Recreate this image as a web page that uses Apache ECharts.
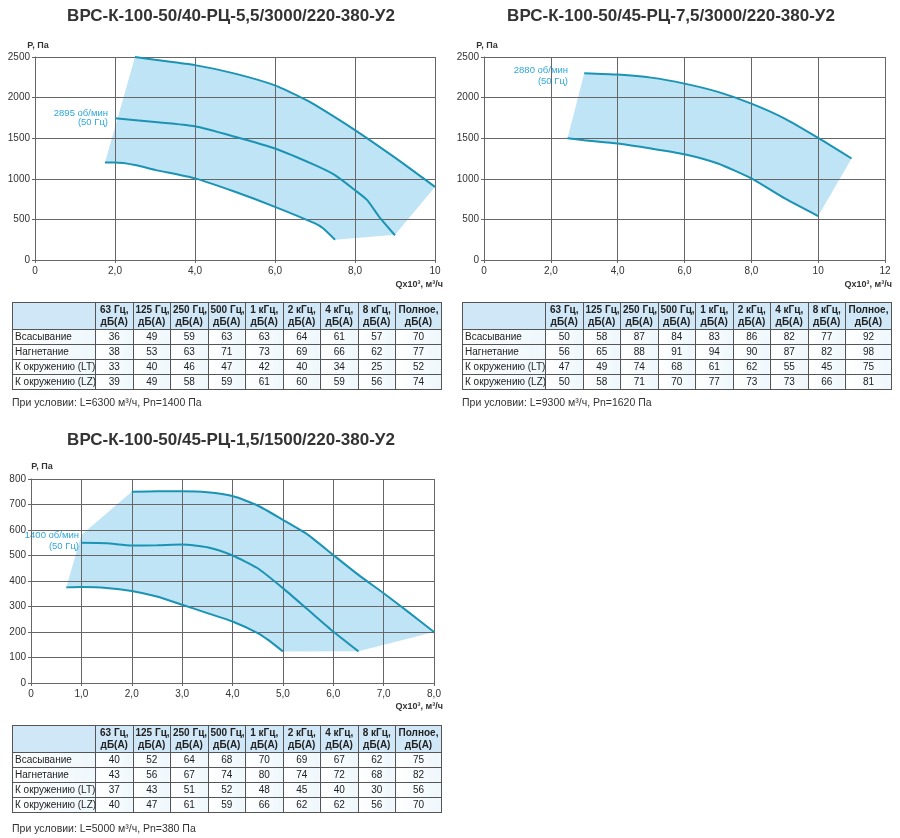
<!DOCTYPE html>
<html>
<head>
<meta charset="utf-8">
<script src="https://cdn.jsdelivr.net/npm/echarts@6/dist/echarts.min.js"></script>
<style>
  body { margin: 0; background: #fff; font-family: "Liberation Sans", Arial, sans-serif; }
  #chart { position: absolute; left: 0; top: 0; width: 900px; height: 838px; }
  table.noise { position: absolute; border-collapse: collapse; table-layout: fixed; font-size: 10px; color: #222; width: 429px; }
  table.noise td, table.noise th { border: 1px solid #555; padding: 0 2px; height: 14px; line-height: 12px; text-align: center; white-space: nowrap; }
  table.noise th { background: #cfe7f6; font-weight: bold; height: 26px; }
  table.noise td.name { text-align: left; }
  table.noise tr.row td { background: linear-gradient(to right, #ffffff, #eef7fc); }
  .note { position: absolute; font-size: 10.5px; color: #333; }
</style>
</head>
<body>
<div id="chart"></div>
<script>
// chart 1: ВРС-К-100-50/40-РЦ-5,5/3000
const title1 = 'ВРС-К-100-50/40-РЦ-5,5/3000/220-380-У2';
const top1 = [[2.5, 2500], [3.0, 2465], [4.0, 2400], [5.0, 2295], [6.0, 2150], [6.7, 1990], [7.0, 1910], [8.0, 1600], [9.0, 1260], [10.0, 900]];
const mid1 = [[2.0, 1745], [3.0, 1700], [4.0, 1648], [5.0, 1518], [6.0, 1373], [7.0, 1168], [7.5, 1045], [8.0, 860], [8.3, 740], [8.6, 535], [9.0, 305]];
const low1 = [[1.75, 1200], [2.0, 1200], [2.5, 1170], [3.0, 1110], [4.0, 1005], [5.0, 840], [6.0, 655], [7.0, 450], [7.2, 390], [7.5, 250]];
const edge1 = [[9.0, 310]];
const speed1 = ['2895 об/мин', '(50 Гц)'];

// chart 2: ВРС-К-100-50/45-РЦ-7,5/3000
const title2 = 'ВРС-К-100-50/45-РЦ-7,5/3000/220-380-У2';
const top2 = [[3.0, 2300], [4.0, 2283], [5.0, 2246], [6.0, 2172], [7.0, 2070], [8.0, 1926], [9.0, 1742], [10.0, 1504], [11.0, 1250]];
const low2 = [[2.5, 1500], [3.0, 1475], [4.0, 1434], [5.0, 1373], [6.0, 1303], [7.0, 1188], [8.0, 1004], [9.0, 758], [10.0, 541]];
const speed2 = ['2880 об/мин', '(50 Гц)'];

// chart 3: ВРС-К-100-50/45-РЦ-1,5/1500
const title3 = 'ВРС-К-100-50/45-РЦ-1,5/1500/220-380-У2';
const top3 = [[2.0, 750], [2.5, 752], [3.0, 752], [3.5, 748], [4.0, 733], [4.5, 696], [5.0, 640], [5.5, 581], [6.0, 502], [6.5, 424], [7.0, 352], [7.5, 277], [8.0, 200]];
const mid3 = [[1.0, 550], [1.5, 548], [2.0, 539], [2.5, 540], [3.0, 543], [3.5, 532], [4.0, 500], [4.5, 450], [5.0, 372], [5.5, 287], [6.0, 202], [6.5, 124]];
const low3 = [[0.7, 375], [1.0, 376], [1.5, 373], [2.0, 361], [2.5, 339], [3.0, 307], [3.5, 274], [4.0, 241], [4.5, 196], [4.7, 170], [5.0, 124]];
const edgeLeft3 = [[1.0, 580]];
const edgeRight3 = [[6.5, 125]];
const speed3 = ['1400 об/мин', '(50 Гц)'];

// noise tables
const bands = ['63 Гц,', '125 Гц,', '250 Гц,', '500 Гц,', '1 кГц,', '2 кГц,', '4 кГц,', '8 кГц,', 'Полное,'];
const rowNames = ['Всасывание', 'Нагнетание', 'К окружению (LT)', 'К окружению (LZ)'];
const noise1 = [[36, 49, 59, 63, 63, 64, 61, 57, 70], [38, 53, 63, 71, 73, 69, 66, 62, 77], [33, 40, 46, 47, 42, 40, 34, 25, 52], [39, 49, 58, 59, 61, 60, 59, 56, 74]];
const noise2 = [[50, 58, 87, 84, 83, 86, 82, 77, 92], [56, 65, 88, 91, 94, 90, 87, 82, 98], [47, 49, 74, 68, 61, 62, 55, 45, 75], [50, 58, 71, 70, 77, 73, 73, 66, 81]];
const noise3 = [[40, 52, 64, 68, 70, 69, 67, 62, 75], [43, 56, 67, 74, 80, 74, 72, 68, 82], [37, 43, 51, 52, 48, 45, 40, 30, 56], [40, 47, 61, 59, 66, 62, 62, 56, 70]];
const note1 = 'При условии: L=6300 м³/ч, Pn=1400 Па';
const note2 = 'При условии: L=9300 м³/ч, Pn=1620 Па';
const note3 = 'При условии: L=5000 м³/ч, Pn=380 Па';

const LINE = '#1b93b3';
const FILL = '#bfe4f6';
const GRIDLINE = '#666';
const FONT = '"Liberation Sans", Arial, sans-serif';

function fmtX(v) {
  if (v === 0) return '0';
  if (v >= 10) return String(v);
  return v.toFixed(1).replace('.', ',');
}

function xAxis(idx, max, step) {
  return {
    type: 'value', gridIndex: idx, min: 0, max: max, interval: step,
    axisLine: { show: true, lineStyle: { color: GRIDLINE } },
    axisTick: { show: true, length: 3, lineStyle: { color: GRIDLINE } },
    splitLine: { show: true, lineStyle: { color: GRIDLINE, width: 1 } },
    axisLabel: { formatter: fmtX, color: '#333', fontSize: 10, fontFamily: FONT, margin: 6 }
  };
}

function yAxis(idx, max, step) {
  return {
    type: 'value', gridIndex: idx, min: 0, max: max, interval: step,
    axisLine: { show: true, lineStyle: { color: GRIDLINE } },
    axisTick: { show: true, length: 3, lineStyle: { color: GRIDLINE } },
    splitLine: { show: true, lineStyle: { color: GRIDLINE, width: 1 } },
    axisLabel: { formatter: v => String(v), color: '#333', fontSize: 10, fontFamily: FONT, margin: 5 }
  };
}

function area(idx, poly) {
  return {
    type: 'custom', xAxisIndex: idx, yAxisIndex: idx, silent: true, z: -1,
    data: [[0, 0]],
    renderItem: function (params, api) {
      return { type: 'polygon', shape: { points: poly.map(p => api.coord(p)) }, style: { fill: FILL } };
    }
  };
}

function curve(idx, pts) {
  return {
    type: 'line', xAxisIndex: idx, yAxisIndex: idx, data: pts, showSymbol: false, smooth: 0.2,
    lineStyle: { color: LINE, width: 2 }, z: 3
  };
}

function text(x, y, s, opt) {
  return {
    type: 'text', x: x, y: y, silent: true,
    style: Object.assign({ text: s, fill: '#333', font: '10px ' + FONT, textAlign: 'left', textVerticalAlign: 'middle' }, opt || {})
  };
}

const poly1 = top1.concat(edge1, low1.slice().reverse());
const poly2 = top2.concat(low2.slice().reverse());
const poly3 = [low3[0]].concat(edgeLeft3, top3, edgeRight3, low3.slice().reverse());

const titleFont = 'bold 17px ' + FONT;
const axisFont = 'bold 9px ' + FONT;
const speedStyle = { fill: '#2fa7da', textAlign: 'right', font: '9.5px ' + FONT };

const chart = echarts.init(document.getElementById('chart'));
chart.setOption({
  animation: false,
  grid: [
    { left: 35, top: 57, width: 400, height: 203 },
    { left: 484, top: 57, width: 401, height: 203 },
    { left: 31, top: 479, width: 403, height: 204 }
  ],
  xAxis: [xAxis(0, 10, 2), xAxis(1, 12, 2), xAxis(2, 8, 1)],
  yAxis: [yAxis(0, 2500, 500), yAxis(1, 2500, 500), yAxis(2, 800, 100)],
  series: [
    area(0, poly1), curve(0, top1), curve(0, mid1), curve(0, low1),
    area(1, poly2), curve(1, top2), curve(1, low2),
    area(2, poly3), curve(2, top3), curve(2, mid3), curve(2, low3)
  ],
  graphic: [
    text(231, 16, title1, { font: titleFont, textAlign: 'center' }),
    text(671, 16, title2, { font: titleFont, textAlign: 'center' }),
    text(231, 440, title3, { font: titleFont, textAlign: 'center' }),
    text(38, 46, 'P, Па', { font: axisFont, textAlign: 'center' }),
    text(487, 46, 'P, Па', { font: axisFont, textAlign: 'center' }),
    text(42, 467, 'P, Па', { font: axisFont, textAlign: 'center' }),
    text(443, 285, 'Qx10³, м³/ч', { font: axisFont, textAlign: 'right' }),
    text(892, 285, 'Qx10³, м³/ч', { font: axisFont, textAlign: 'right' }),
    text(443, 707, 'Qx10³, м³/ч', { font: axisFont, textAlign: 'right' }),
    text(108, 113, speed1[0], speedStyle),
    text(108, 122, speed1[1], speedStyle),
    text(568, 70, speed2[0], speedStyle),
    text(568, 81, speed2[1], speedStyle),
    text(79, 535, speed3[0], speedStyle),
    text(79, 546, speed3[1], speedStyle)
  ]
});

function makeTable(left, top, rows, note, noteTop) {
  const t = document.createElement('table');
  t.className = 'noise';
  t.style.left = left + 'px';
  t.style.top = top + 'px';
  let html = '<colgroup><col style="width:83px">';
  for (let i = 0; i < 8; i++) html += '<col style="width:37.5px">';
  html += '<col style="width:46px"></colgroup><tr><th></th>';
  bands.forEach(b => { html += '<th>' + b + '<br>дБ(А)</th>'; });
  html += '</tr>';
  rows.forEach((r, i) => {
    html += '<tr class="row"><td class="name">' + rowNames[i] + '</td>';
    r.forEach(v => { html += '<td>' + v + '</td>'; });
    html += '</tr>';
  });
  t.innerHTML = html;
  document.body.appendChild(t);
  const n = document.createElement('div');
  n.className = 'note';
  n.style.left = left + 'px';
  n.style.top = noteTop + 'px';
  n.textContent = note;
  document.body.appendChild(n);
}

makeTable(12, 302, noise1, note1, 396);
makeTable(462, 302, noise2, note2, 396);
makeTable(12, 725, noise3, note3, 822);
</script>
</body>
</html>
